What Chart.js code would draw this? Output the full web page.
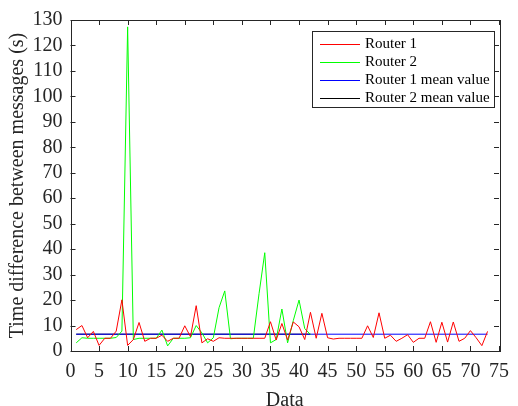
<!DOCTYPE html>
<html>
<head>
<meta charset="utf-8">
<script src="https://cdn.jsdelivr.net/npm/chart.js@4/dist/chart.umd.min.js"></script>
<style>
  html, body { margin: 0; padding: 0; background: #fff; }
  canvas { display: block; }
</style>
</head>
<body>
<canvas id="chart" width="518" height="406"></canvas>
<script>
// Valores (índice = número da mensagem)
const router1Values = [
  8.4, 10, 5.2, 7.7, 2.2, 5, 5, 7.8, 20.1, 2.2,
  4.5, 11.2, 3.8, 5, 5, 6.2, 3.8, 5, 5, 9.9,
  5.6, 17.8, 3.2, 4.8, 3.8, 5.2, 5, 5, 5, 5,
  5, 5, 5, 5, 11.5, 4.3, 10.8, 4.3, 11.4, 9.5,
  4.5, 15.2, 5, 14.8, 5.2, 4.7, 5, 5, 5, 5,
  5, 9.9, 5.3, 15, 5, 6.2, 3.8, 5, 6.4, 3.4,
  5, 5, 11.5, 3.4, 11.3, 3.5, 11.4, 3.8, 5, 8,
  5.2, 2.1, 7.7
];
const router2Values = [
  3.2, 5.2, 5, 5, 5, 5, 5, 5.3, 7.8, 127.3,
  4.5, 5, 5, 5, 5, 8.2, 2, 5, 5, 5,
  5.2, 10, 7.1, 3.2, 5.2, 17, 23.6, 4.8, 5, 5,
  5, 5, 22.5, 38.6, 3.2, 4.5, 16.5, 3.2, 12, 20,
  8.8, 6.5
];
const router1Mean = 6.6;
const router2Mean = 6.6;

const xTicks = [0, 5, 10, 15, 20, 25, 30, 35, 40, 45, 50, 55, 60, 65, 70, 75];
const yTicks = [0, 10, 20, 30, 40, 50, 60, 70, 80, 90, 100, 110, 120, 130];

const seriesLabels = ['Router 1', 'Router 2', 'Router 1 mean value', 'Router 2 mean value'];
const seriesColors = ['#ff0000', '#00ff00', '#0000ff', '#000000'];

const FONT = "'Liberation Serif', 'Times New Roman', serif";
const AXIS_COLOR = '#262626';

function toPoints(values) {
  return values.map((v, i) => ({ x: i + 1, y: v }));
}

// Eixos estilo MATLAB: caixa e marcas para dentro
const boxTicksPlugin = {
  id: 'boxTicks',
  afterDraw(chart) {
    const { ctx, chartArea: a, scales } = chart;
    const len = 5;
    ctx.save();
    ctx.strokeStyle = AXIS_COLOR;
    ctx.lineWidth = 1;
    ctx.beginPath();
    xTicks.forEach(t => {
      const px = Math.round(scales.x.getPixelForValue(t)) + 0.5;
      ctx.moveTo(px, a.bottom); ctx.lineTo(px, a.bottom - len);
      ctx.moveTo(px, a.top); ctx.lineTo(px, a.top + len);
    });
    yTicks.forEach(t => {
      const py = Math.round(scales.y.getPixelForValue(t)) + 0.5;
      ctx.moveTo(a.left, py); ctx.lineTo(a.left + len, py);
      ctx.moveTo(a.right, py); ctx.lineTo(a.right - len, py);
    });
    ctx.stroke();
    ctx.strokeRect(Math.round(a.left) + 0.5, Math.round(a.top) + 0.5,
                   Math.round(a.right - a.left), Math.round(a.bottom - a.top));
    ctx.restore();
  }
};

// Legenda com caixa dentro da área do gráfico
const boxLegendPlugin = {
  id: 'boxLegend',
  afterDraw(chart) {
    const { ctx } = chart;
    const x0 = 312.5, y0 = 31.5, w = 182, h = 76;
    ctx.save();
    ctx.fillStyle = '#fff';
    ctx.fillRect(x0, y0, w, h);
    ctx.strokeStyle = AXIS_COLOR;
    ctx.lineWidth = 1;
    ctx.strokeRect(x0, y0, w, h);
    ctx.font = '15px ' + FONT;
    ctx.textBaseline = 'middle';
    ctx.textAlign = 'left';
    chart.data.datasets.forEach((ds, i) => {
      const y = Math.round(y0 + 12 + i * 18) + 0.5;
      ctx.strokeStyle = ds.borderColor;
      ctx.beginPath();
      ctx.moveTo(320, y);
      ctx.lineTo(360, y);
      ctx.stroke();
      ctx.fillStyle = '#000';
      ctx.fillText(ds.label, 365, y);
    });
    ctx.restore();
  }
};

const ctx = document.getElementById('chart').getContext('2d');
new Chart(ctx, {
  type: 'line',
  data: {
    datasets: [
      {
        label: seriesLabels[0],
        data: toPoints(router1Values),
        borderColor: seriesColors[0],
        borderWidth: 1,
        pointRadius: 0,
        tension: 0
      },
      {
        label: seriesLabels[1],
        data: toPoints(router2Values),
        borderColor: seriesColors[1],
        borderWidth: 1,
        pointRadius: 0,
        tension: 0
      },
      {
        label: seriesLabels[2],
        data: [{ x: 1, y: router1Mean }, { x: router1Values.length, y: router1Mean }],
        borderColor: seriesColors[2],
        borderWidth: 1,
        pointRadius: 0
      },
      {
        label: seriesLabels[3],
        data: [{ x: 1, y: router2Mean }, { x: router2Values.length, y: router2Mean }],
        borderColor: seriesColors[3],
        borderWidth: 1,
        pointRadius: 0
      }
    ]
  },
  options: {
    responsive: false,
    animation: false,
    devicePixelRatio: 1,
    layout: { padding: { top: 17, right: 11, left: 0, bottom: 0 } },
    plugins: {
      legend: { display: false },
      tooltip: { enabled: false }
    },
    scales: {
      x: {
        type: 'linear',
        min: 0,
        max: 75,
        afterBuildTicks: scale => { scale.ticks = xTicks.map(v => ({ value: v })); },
        afterFit: scale => { scale.height = 55; },
        grid: { display: false, drawTicks: false },
        border: { display: false },
        ticks: {
          color: '#262626',
          font: { family: FONT, size: 20 },
          padding: 9,
          maxRotation: 0,
          autoSkip: false
        },
        title: {
          display: true,
          text: 'Data',
          color: '#262626',
          font: { family: FONT, size: 20 },
          padding: { top: 0, bottom: -7 }
        }
      },
      y: {
        type: 'linear',
        min: 0,
        max: 130,
        afterBuildTicks: scale => { scale.ticks = yTicks.map(v => ({ value: v })); },
        afterFit: scale => { scale.width = 70.5; },
        grid: { display: false, drawTicks: false },
        border: { display: false },
        ticks: {
          color: '#262626',
          font: { family: FONT, size: 20 },
          padding: 8,
          autoSkip: false
        },
        title: {
          display: true,
          text: 'Time difference between messages (s)',
          color: '#262626',
          font: { family: FONT, size: 20 },
          padding: { top: 6, bottom: 0 }
        }
      }
    }
  },
  plugins: [boxTicksPlugin, boxLegendPlugin]
});
</script>
</body>
</html>
